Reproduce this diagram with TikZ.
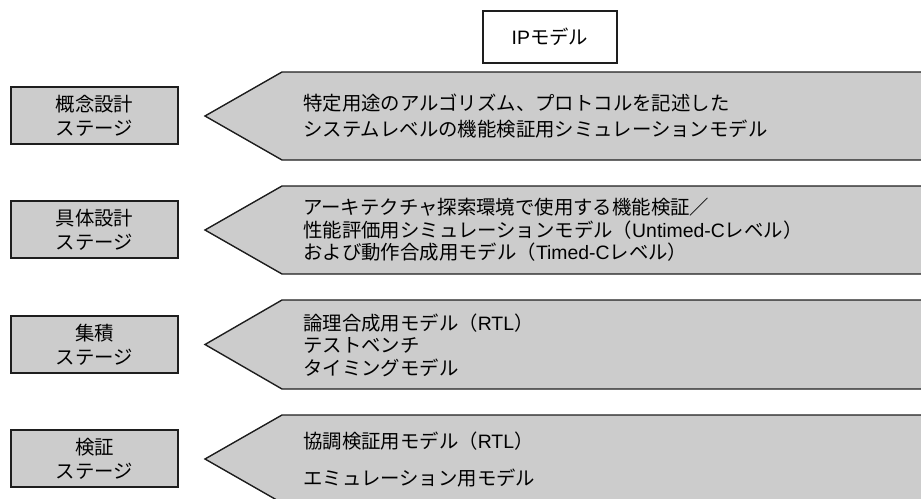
\documentclass[tikz,border=0pt]{standalone}
\usepackage{fontspec}
\setmainfont{Noto Sans CJK JP}
\newfontfamily\lat{Liberation Sans}
\definecolor{panel}{HTML}{CCCCCC}
\definecolor{edge}{HTML}{1E1E1E}
\begin{document}
\begin{tikzpicture}[x=1pt,y=-1pt,
  stagebox/.style={draw=edge, line width=1.4pt, fill=panel, minimum width=167pt,
    minimum height=57pt, inner sep=0pt, align=center,
    font=\fontsize{19.4}{24}\selectfont},
  ipbox/.style={draw=edge, line width=1.4pt, fill=white, minimum width=134pt,
    minimum height=52pt, inner sep=0pt, font=\fontsize{19.4}{24}\selectfont},
  arrowshape/.style={draw=edge, line width=1.4pt, fill=panel, line join=miter},
  desc/.style={anchor=west, align=left, inner sep=0pt}]
\useasboundingbox (0,0) rectangle (921,498);
\clip (0,0) rectangle (921,498);

% IP model header
\node[ipbox] (ip) at (550,37) {{\lat IP}モデル};

% arrows
\draw[arrowshape] (935,72) -- (282,72) -- (205,116) -- (282,160) -- (935,160);
\draw[arrowshape] (935,186) -- (282,186) -- (205,230) -- (282,274) -- (935,274);
\draw[arrowshape] (935,300) -- (282,300) -- (205,344.5) -- (282,389) -- (935,389);
\draw[arrowshape] (935,415) -- (282,415) -- (205,459) -- (282,503) -- (935,503);

% stage boxes
\node[stagebox] (s1) at (94.5,115.5) {概念設計\\ステージ};
\node[stagebox] (s2) at (94.5,229.5) {具体設計\\ステージ};
\node[stagebox] (s3) at (94.5,344.5) {集積\\ステージ};
\node[stagebox] (s4) at (94.5,458.5) {検証\\ステージ};

% descriptions
\node[desc, font=\fontsize{19.4}{26}\selectfont] (t1) at (303,116)
  {特定用途のアルゴリズム、プロトコルを記述した\\システムレベルの機能検証用シミュレーションモデル};
\node[desc, font=\fontsize{19.4}{22.5}\selectfont] (t2) at (303,230)
  {アーキテクチャ探索環境で使用する機能検証／\\性能評価用シミュレーションモデル（{\lat Untimed-C}レベル）\\および動作合成用モデル（{\lat Timed-C}レベル）};
\node[desc, font=\fontsize{19.4}{22.5}\selectfont] (t3) at (303,345)
  {論理合成用モデル（{\lat RTL}）\\テストベンチ\\タイミングモデル};
\node[desc, font=\fontsize{19.4}{37}\selectfont] (t4) at (303,459.5)
  {協調検証用モデル（{\lat RTL}）\\エミュレーション用モデル};
\end{tikzpicture}
\end{document}
